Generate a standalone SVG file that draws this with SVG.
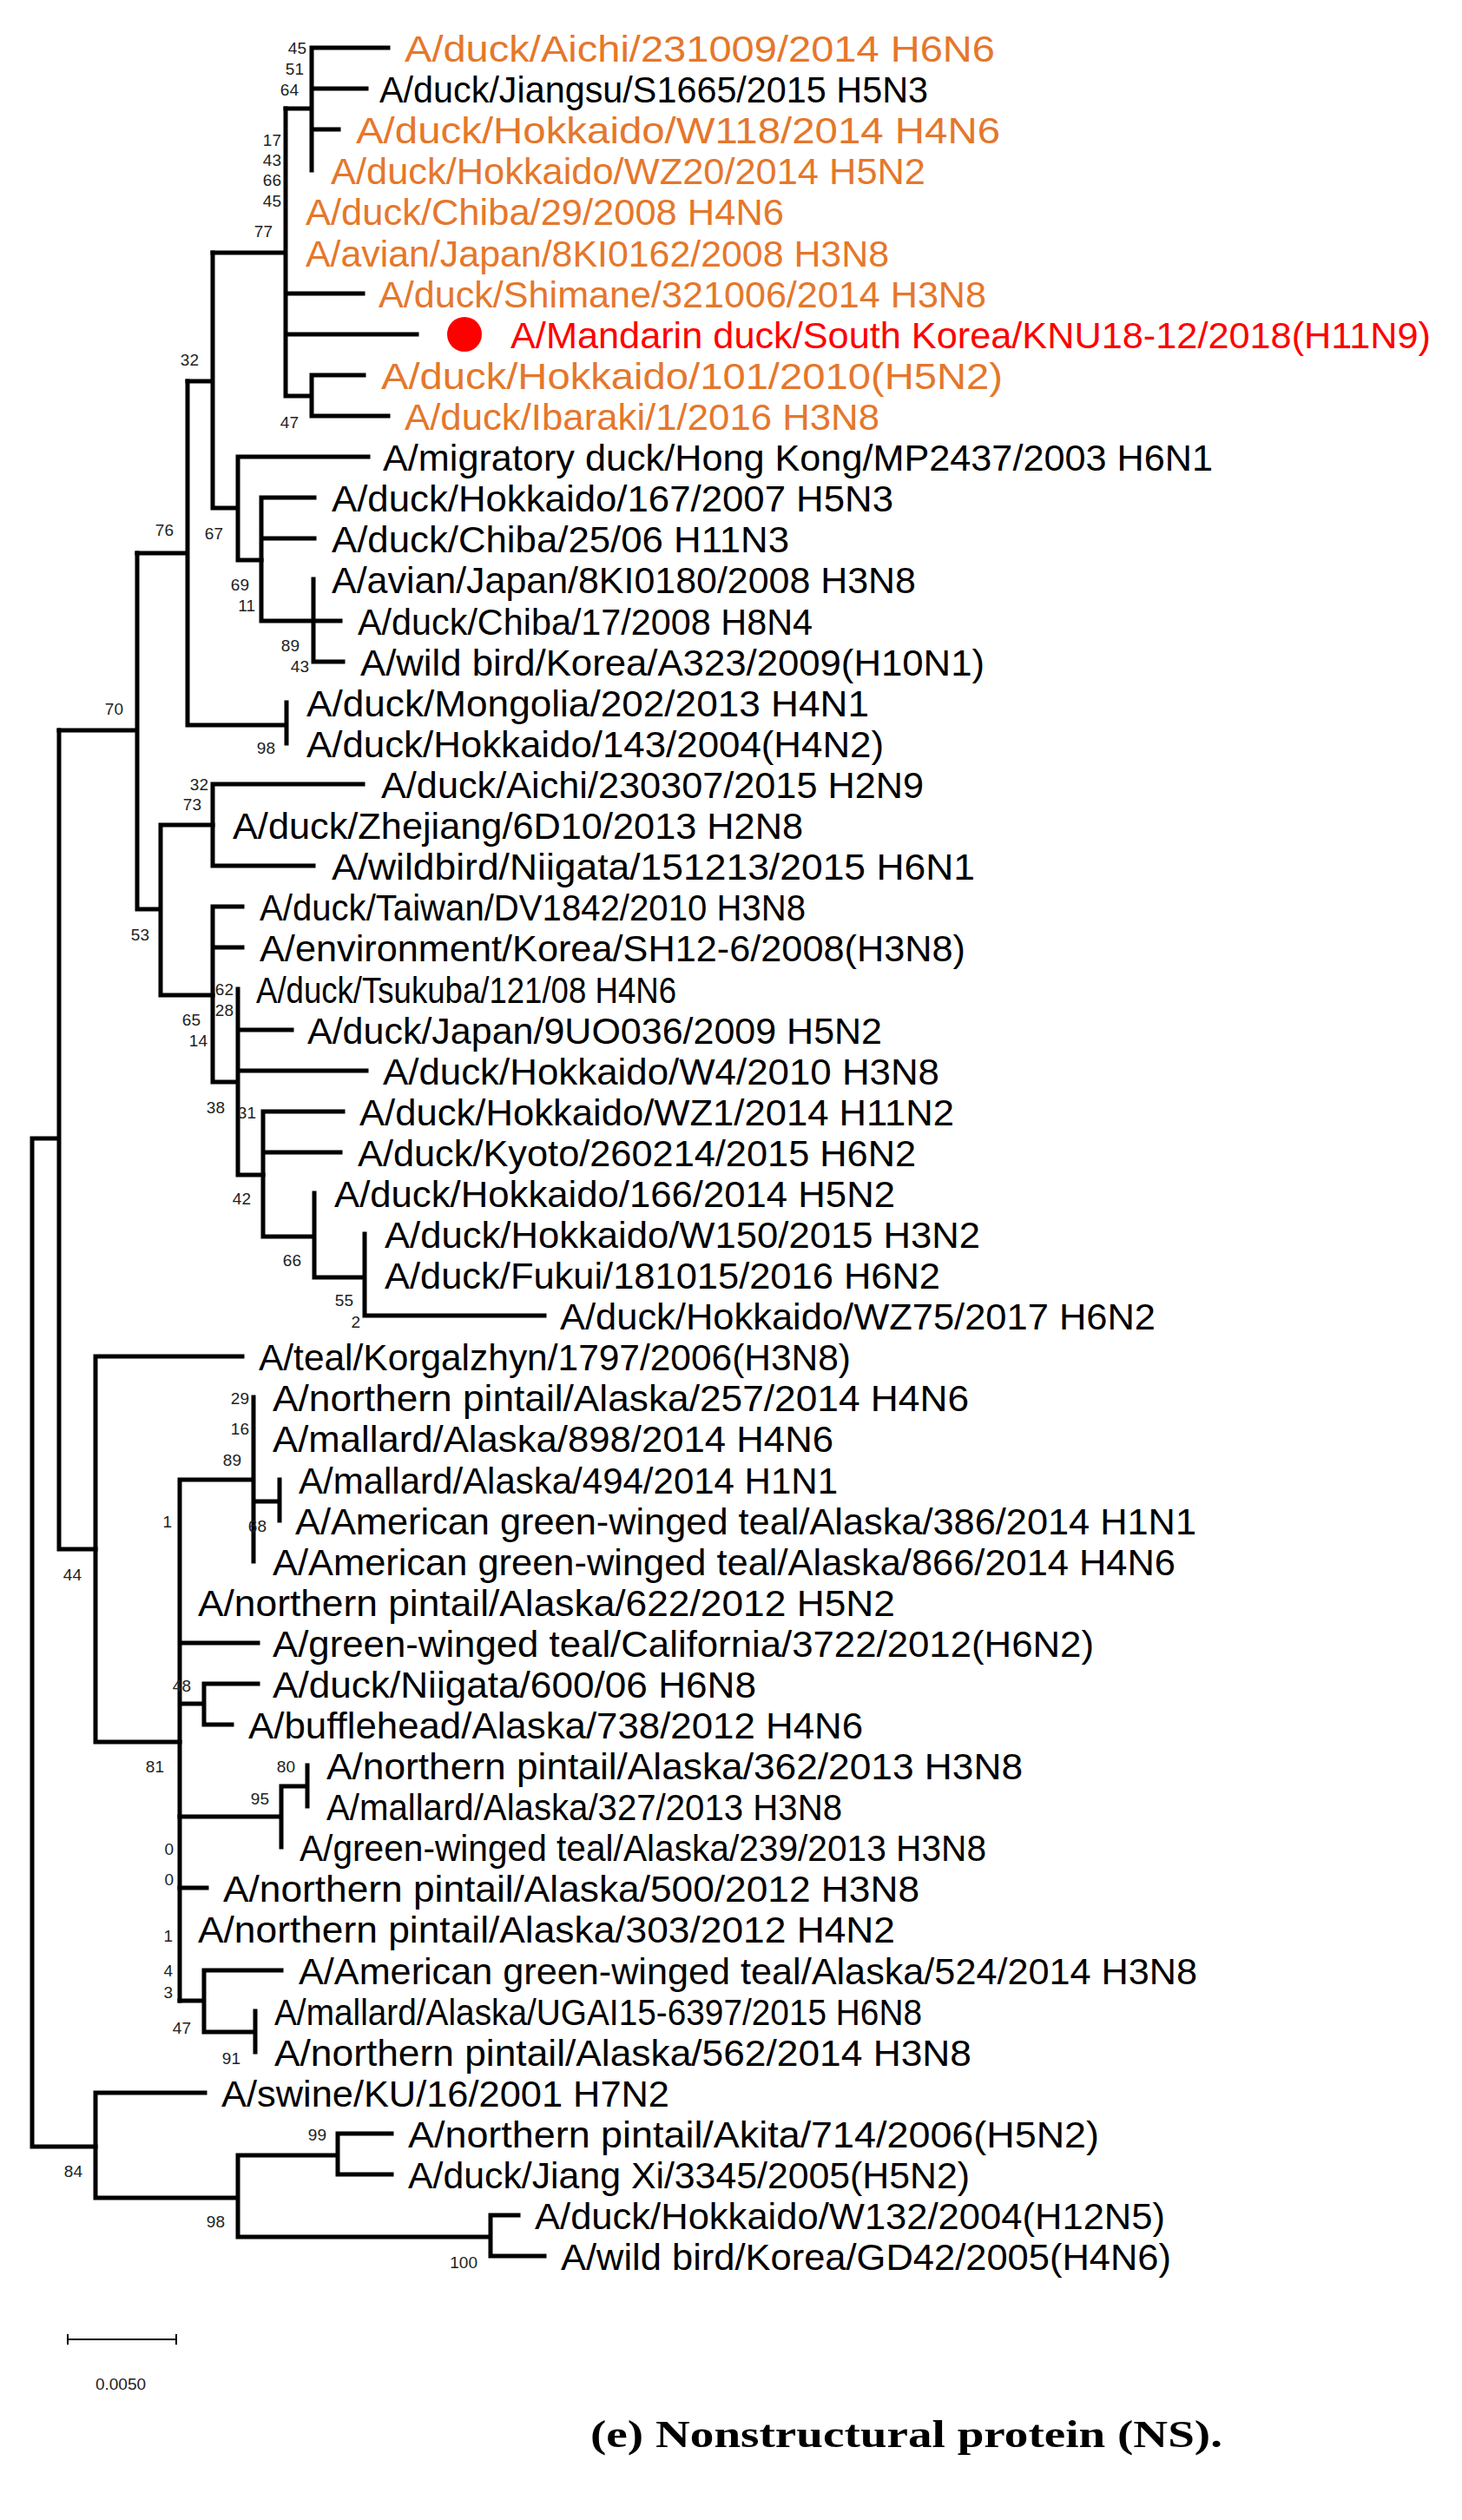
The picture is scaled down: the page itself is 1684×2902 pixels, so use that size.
<svg xmlns="http://www.w3.org/2000/svg" width="1684" height="2902" viewBox="0 0 1684 2902">
<style>
.t{font-family:"Liberation Sans",Arial,sans-serif;font-size:43px;fill:#000}
.o{fill:#E5772B}
.r{fill:#FF0000}
.b{font-family:"Liberation Sans Narrow","Liberation Sans",Arial,sans-serif;font-size:19px;fill:#222;text-anchor:end}
.e{fill:none;stroke:#000;stroke-width:5;stroke-linecap:square}
</style>
<rect width="1684" height="2902" fill="#fff"/>
<g id="connectors" class="e">
<path d="M359 55V196M359 55H447M359 102H422M359 149H390M329 125H359"/>
<path d="M329 125V456M329 338H418M329 385H480M329 456H359M359 432V479M359 432H419M359 479H447M245 291H329"/>
<path d="M245 291V585M216 439H245M245 585H274M274 526V645M274 526H424M274 645H301"/>
<path d="M301 573V715M301 573H362M301 620H362M301 715H361M361 667V762M361 715H392M361 762H395"/>
<path d="M216 439V835M158 637H216M216 835H330M330 809V856"/>
<path d="M158 637V1047M68 841H158M158 1047H185M185 950V1146M185 950H245M185 1146H245"/>
<path d="M245 903V997M245 903H418M245 997H361"/>
<path d="M245 1044V1246M245 1044H279M245 1091H279M245 1246H274M274 1139V1353M274 1186H336M274 1233H422M274 1353H303"/>
<path d="M303 1280V1424M303 1280H395M303 1327H392M303 1424H362M362 1374V1471M362 1471H420M420 1421V1515M420 1515H627"/>
<path d="M68 841V1784M37 1311H68M68 1784H110M37 1311V2472M37 2472H110"/>
<path d="M110 1562V2006M110 1562H279M110 2006H207"/>
<path d="M207 1704V2304M207 1704H292M292 1609V1798M292 1729H322M322 1704V1751M207 1892H297M207 1962H235M235 1939V1986M235 1939H297M235 1986H267"/>
<path d="M207 2092H324M324 2057V2127M324 2057H354M354 2033V2080M207 2174H238"/>
<path d="M207 2304H235M235 2269V2340M235 2269H324M235 2340H294M294 2316V2363"/>
<path d="M110 2410V2531M110 2410H236M110 2531H274M274 2482V2576M274 2482H389M389 2457V2504M389 2457H451M389 2504H451M274 2576H565M565 2551V2598M565 2551H597M565 2598H627"/>
</g>
<g id="leaves" class="t">
<text id="n1" class="t o" x="466" y="71" textLength="680" lengthAdjust="spacingAndGlyphs">A/duck/Aichi/231009/2014 H6N6</text>
<text id="n2" class="t" x="437" y="118" textLength="632" lengthAdjust="spacingAndGlyphs">A/duck/Jiangsu/S1665/2015 H5N3</text>
<text id="n3" class="t o" x="410" y="165" textLength="742" lengthAdjust="spacingAndGlyphs">A/duck/Hokkaido/W118/2014 H4N6</text>
<text id="n4" class="t o" x="381" y="212" textLength="685" lengthAdjust="spacingAndGlyphs">A/duck/Hokkaido/WZ20/2014 H5N2</text>
<text id="n5" class="t o" x="352" y="259" textLength="551" lengthAdjust="spacingAndGlyphs">A/duck/Chiba/29/2008 H4N6</text>
<text id="n6" class="t o" x="352" y="307" textLength="672" lengthAdjust="spacingAndGlyphs">A/avian/Japan/8KI0162/2008 H3N8</text>
<text id="n7" class="t o" x="436" y="354" textLength="700" lengthAdjust="spacingAndGlyphs">A/duck/Shimane/321006/2014 H3N8</text>
<g id="n8"><circle cx="535" cy="385" r="20" fill="#FF0000"/>
<text class="t r" x="588" y="401" textLength="1060" lengthAdjust="spacingAndGlyphs">A/Mandarin duck/South Korea/KNU18-12/2018(H11N9)</text></g>
<text id="n9" class="t o" x="439" y="448" textLength="716" lengthAdjust="spacingAndGlyphs">A/duck/Hokkaido/101/2010(H5N2)</text>
<text id="n10" class="t o" x="466" y="495" textLength="547" lengthAdjust="spacingAndGlyphs">A/duck/Ibaraki/1/2016 H3N8</text>
<text id="n11" class="t" x="441" y="542" textLength="956" lengthAdjust="spacingAndGlyphs">A/migratory duck/Hong Kong/MP2437/2003 H6N1</text>
<text id="n12" class="t" x="382" y="589" textLength="647" lengthAdjust="spacingAndGlyphs">A/duck/Hokkaido/167/2007 H5N3</text>
<text id="n13" class="t" x="382" y="636" textLength="527" lengthAdjust="spacingAndGlyphs">A/duck/Chiba/25/06 H11N3</text>
<text id="n14" class="t" x="382" y="683" textLength="673" lengthAdjust="spacingAndGlyphs">A/avian/Japan/8KI0180/2008 H3N8</text>
<text id="n15" class="t" x="412" y="731" textLength="524" lengthAdjust="spacingAndGlyphs">A/duck/Chiba/17/2008 H8N4</text>
<text id="n16" class="t" x="415" y="778" textLength="719" lengthAdjust="spacingAndGlyphs">A/wild bird/Korea/A323/2009(H10N1)</text>
<text id="n17" class="t" x="353" y="825" textLength="648" lengthAdjust="spacingAndGlyphs">A/duck/Mongolia/202/2013 H4N1</text>
<text id="n18" class="t" x="353" y="872" textLength="665" lengthAdjust="spacingAndGlyphs">A/duck/Hokkaido/143/2004(H4N2)</text>
<text id="n19" class="t" x="439" y="919" textLength="625" lengthAdjust="spacingAndGlyphs">A/duck/Aichi/230307/2015 H2N9</text>
<text id="n20" class="t" x="268" y="966" textLength="657" lengthAdjust="spacingAndGlyphs">A/duck/Zhejiang/6D10/2013 H2N8</text>
<text id="n21" class="t" x="382" y="1013" textLength="741" lengthAdjust="spacingAndGlyphs">A/wildbird/Niigata/151213/2015 H6N1</text>
<text id="n22" class="t" x="299" y="1060" textLength="629" lengthAdjust="spacingAndGlyphs">A/duck/Taiwan/DV1842/2010 H3N8</text>
<text id="n23" class="t" x="299" y="1107" textLength="813" lengthAdjust="spacingAndGlyphs">A/environment/Korea/SH12-6/2008(H3N8)</text>
<text id="n24" class="t" x="295" y="1155" textLength="484" lengthAdjust="spacingAndGlyphs">A/duck/Tsukuba/121/08 H4N6</text>
<text id="n25" class="t" x="354" y="1202" textLength="662" lengthAdjust="spacingAndGlyphs">A/duck/Japan/9UO036/2009 H5N2</text>
<text id="n26" class="t" x="441" y="1249" textLength="641" lengthAdjust="spacingAndGlyphs">A/duck/Hokkaido/W4/2010 H3N8</text>
<text id="n27" class="t" x="414" y="1296" textLength="685" lengthAdjust="spacingAndGlyphs">A/duck/Hokkaido/WZ1/2014 H11N2</text>
<text id="n28" class="t" x="412" y="1343" textLength="643" lengthAdjust="spacingAndGlyphs">A/duck/Kyoto/260214/2015 H6N2</text>
<text id="n29" class="t" x="385" y="1390" textLength="646" lengthAdjust="spacingAndGlyphs">A/duck/Hokkaido/166/2014 H5N2</text>
<text id="n30" class="t" x="443" y="1437" textLength="686" lengthAdjust="spacingAndGlyphs">A/duck/Hokkaido/W150/2015 H3N2</text>
<text id="n31" class="t" x="443" y="1484" textLength="640" lengthAdjust="spacingAndGlyphs">A/duck/Fukui/181015/2016 H6N2</text>
<text id="n32" class="t" x="645" y="1531" textLength="686" lengthAdjust="spacingAndGlyphs">A/duck/Hokkaido/WZ75/2017 H6N2</text>
<text id="n33" class="t" x="298" y="1578" textLength="682" lengthAdjust="spacingAndGlyphs">A/teal/Korgalzhyn/1797/2006(H3N8)</text>
<text id="n34" class="t" x="314" y="1625" textLength="802" lengthAdjust="spacingAndGlyphs">A/northern pintail/Alaska/257/2014 H4N6</text>
<text id="n35" class="t" x="314" y="1672" textLength="646" lengthAdjust="spacingAndGlyphs">A/mallard/Alaska/898/2014 H4N6</text>
<text id="n36" class="t" x="344" y="1720" textLength="621" lengthAdjust="spacingAndGlyphs">A/mallard/Alaska/494/2014 H1N1</text>
<text id="n37" class="t" x="340" y="1767" textLength="1038" lengthAdjust="spacingAndGlyphs">A/American green-winged teal/Alaska/386/2014 H1N1</text>
<text id="n38" class="t" x="314" y="1814" textLength="1040" lengthAdjust="spacingAndGlyphs">A/American green-winged teal/Alaska/866/2014 H4N6</text>
<text id="n39" class="t" x="228" y="1861" textLength="803" lengthAdjust="spacingAndGlyphs">A/northern pintail/Alaska/622/2012 H5N2</text>
<text id="n40" class="t" x="314" y="1908" textLength="946" lengthAdjust="spacingAndGlyphs">A/green-winged teal/California/3722/2012(H6N2)</text>
<text id="n41" class="t" x="314" y="1955" textLength="557" lengthAdjust="spacingAndGlyphs">A/duck/Niigata/600/06 H6N8</text>
<text id="n42" class="t" x="286" y="2002" textLength="708" lengthAdjust="spacingAndGlyphs">A/bufflehead/Alaska/738/2012 H4N6</text>
<text id="n43" class="t" x="376" y="2049" textLength="802" lengthAdjust="spacingAndGlyphs">A/northern pintail/Alaska/362/2013 H3N8</text>
<text id="n44" class="t" x="376" y="2096" textLength="594" lengthAdjust="spacingAndGlyphs">A/mallard/Alaska/327/2013 H3N8</text>
<text id="n45" class="t" x="345" y="2143" textLength="791" lengthAdjust="spacingAndGlyphs">A/green-winged teal/Alaska/239/2013 H3N8</text>
<text id="n46" class="t" x="257" y="2190" textLength="802" lengthAdjust="spacingAndGlyphs">A/northern pintail/Alaska/500/2012 H3N8</text>
<text id="n47" class="t" x="228" y="2237" textLength="803" lengthAdjust="spacingAndGlyphs">A/northern pintail/Alaska/303/2012 H4N2</text>
<text id="n48" class="t" x="344" y="2285" textLength="1035" lengthAdjust="spacingAndGlyphs">A/American green-winged teal/Alaska/524/2014 H3N8</text>
<text id="n49" class="t" x="316" y="2332" textLength="746" lengthAdjust="spacingAndGlyphs">A/mallard/Alaska/UGAI15-6397/2015 H6N8</text>
<text id="n50" class="t" x="316" y="2379" textLength="803" lengthAdjust="spacingAndGlyphs">A/northern pintail/Alaska/562/2014 H3N8</text>
<text id="n51" class="t" x="255" y="2426" textLength="516" lengthAdjust="spacingAndGlyphs">A/swine/KU/16/2001 H7N2</text>
<text id="n52" class="t" x="470" y="2473" textLength="796" lengthAdjust="spacingAndGlyphs">A/northern pintail/Akita/714/2006(H5N2)</text>
<text id="n53" class="t" x="470" y="2520" textLength="647" lengthAdjust="spacingAndGlyphs">A/duck/Jiang Xi/3345/2005(H5N2)</text>
<text id="n54" class="t" x="616" y="2567" textLength="726" lengthAdjust="spacingAndGlyphs">A/duck/Hokkaido/W132/2004(H12N5)</text>
<text id="n55" class="t" x="646" y="2614" textLength="703" lengthAdjust="spacingAndGlyphs">A/wild bird/Korea/GD42/2005(H4N6)</text>
</g>
<g id="bootstrap" class="b">
<text x="353" y="62">45</text><text x="350" y="86">51</text><text x="344" y="110">64</text>
<text x="324" y="168">17</text><text x="324" y="191">43</text><text x="324" y="214">66</text><text x="324" y="238">45</text>
<text x="314" y="273">77</text><text x="229" y="421">32</text><text x="344" y="493">47</text>
<text x="200" y="617">76</text><text x="257" y="621">67</text><text x="287" y="680">69</text><text x="294" y="704">11</text>
<text x="345" y="750">89</text><text x="356" y="774">43</text><text x="142" y="823">70</text><text x="317" y="868">98</text>
<text x="240" y="910">32</text><text x="232" y="933">73</text><text x="172" y="1083">53</text>
<text x="269" y="1146">62</text><text x="269" y="1170">28</text><text x="231" y="1181">65</text><text x="239" y="1205">14</text>
<text x="259" y="1282">38</text><text x="295" y="1288">31</text><text x="289" y="1387">42</text><text x="347" y="1458">66</text>
<text x="407" y="1504">55</text><text x="415" y="1529">2</text><text x="287" y="1617">29</text>
<text x="287" y="1652">16</text><text x="278" y="1688">89</text><text x="198" y="1759">1</text><text x="307" y="1764">68</text>
<text x="94" y="1820">44</text><text x="220" y="1948">48</text><text x="189" y="2041">81</text><text x="340" y="2041">80</text>
<text x="310" y="2078">95</text><text x="200" y="2136">0</text><text x="200" y="2171">0</text>
<text x="199" y="2236">1</text><text x="199" y="2276">4</text><text x="199" y="2301">3</text><text x="220" y="2342">47</text>
<text x="277" y="2377">91</text><text x="376" y="2465">99</text><text x="95" y="2507">84</text><text x="259" y="2565">98</text>
<text x="550" y="2612">100</text>
</g>
<g id="scale">
<path d="M78 2694H203M78 2688V2700M203 2688V2700" fill="none" stroke="#000" stroke-width="2"/>
<text x="139" y="2752" text-anchor="middle" style="font-family:'Liberation Sans Narrow','Liberation Sans',Arial,sans-serif;font-size:19px;fill:#222">0.0050</text>
</g>
<text id="caption" x="680" y="2818" textLength="728" lengthAdjust="spacingAndGlyphs" style="font-family:'Liberation Serif','Times New Roman',serif;font-size:44px;font-weight:bold;fill:#000">(e) Nonstructural protein (NS).</text>
</svg>
